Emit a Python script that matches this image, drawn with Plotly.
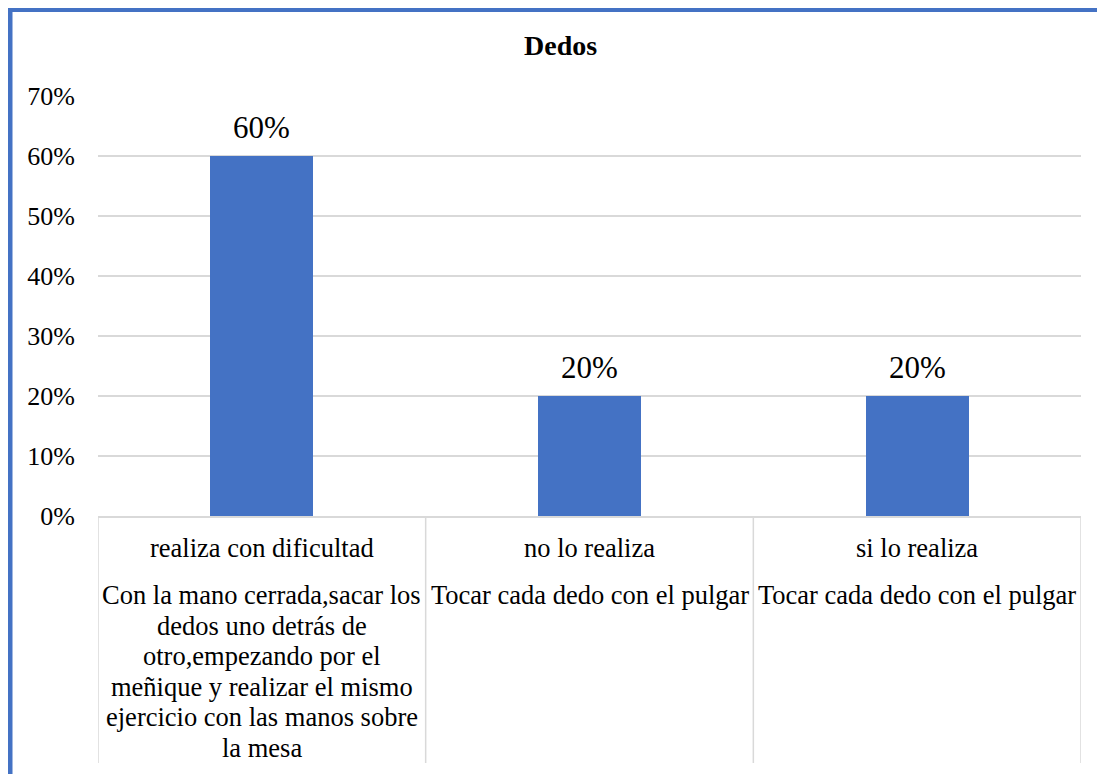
import plotly.graph_objects as go

# ---- data ----
categories = ["realiza con dificultad", "no lo realiza", "si lo realiza"]
descriptions = [
    ["Con la mano cerrada,sacar los", "dedos uno detrás de", "otro,empezando por el",
     "meñique y realizar el mismo", "ejercicio con las manos sobre", "la mesa"],
    ["Tocar cada dedo con el pulgar"],
    ["Tocar cada dedo con el pulgar"],
]
values = [0.60, 0.20, 0.20]
tick_vals = [0, 0.1, 0.2, 0.3, 0.4, 0.5, 0.6, 0.7]
tick_text = ["0%", "10%", "20%", "30%", "40%", "50%", "60%", "70%"]
title_text = "Dedos"

# ---- layout constants (page pixels) ----
OFF = 8  # page body margin
W, H = 1105 - OFF, 774 - OFF
L, R, T, B = 98, 1081, 96, 516
PH = B - T
PW = R - L
FONT = "Times New Roman, Liberation Serif, serif"
BLUE = "#4472C4"
GRID = "#D9D9D9"


def py(px):
    return (B - px) / PH


def pxx(px):
    return (px - L) / PW


x_idx = list(range(len(categories)))

fig = go.Figure()
fig.add_trace(go.Bar(
    x=x_idx, y=values, width=0.314,
    marker=dict(color=BLUE, line=dict(width=0)),
    hoverinfo="skip",
))

annotations = []
# data labels
for i, v in zip(x_idx, values):
    annotations.append(dict(text=f"{v:.0%}", xref="x", yref="y", x=i, y=v,
                            xanchor="center", yanchor="bottom", yshift=9,
                            showarrow=False,
                            font=dict(family=FONT, size=31, color="#000000")))
# title
annotations.append(dict(text="<b>" + title_text + "</b>", xref="paper", yref="paper",
                        x=pxx(560), y=py(46), xanchor="center", yanchor="middle",
                        showarrow=False, font=dict(family=FONT, size=28, color="#000000")))
# category labels
for i, (cat, desc) in enumerate(zip(categories, descriptions)):
    annotations.append(dict(text=cat, xref="x", yref="paper", x=i, y=py(547.5),
                            xanchor="center", yanchor="middle", showarrow=False,
                            font=dict(family=FONT, size=26.5, color="#000000")))
    for j, line in enumerate(desc):
        annotations.append(dict(text=line, xref="x", yref="paper", x=i,
                                y=py(595 + 30.5 * j),
                                xanchor="center", yanchor="middle", showarrow=False,
                                font=dict(family=FONT, size=26.5, color="#000000")))

shapes = []
# category separators
for k in range(len(categories) + 1):
    shapes.append(dict(type="line", xref="x", yref="paper", x0=k - 0.5, x1=k - 0.5,
                       y0=0, y1=py(763), line=dict(color=GRID, width=1.5)))
# chart border (blue)
shapes.append(dict(type="rect", xref="paper", yref="paper",
                   x0=pxx(10), x1=pxx(1120), y0=py(790), y1=py(9.5),
                   line=dict(color=BLUE, width=5), fillcolor="rgba(0,0,0,0)"))

fig.update_layout(
    width=W, height=H, autosize=False,
    font=dict(family=FONT, color="#000000"),
    margin=dict(l=L - OFF, r=1105 - R, t=T - OFF, b=774 - B, pad=0),
    paper_bgcolor="white", plot_bgcolor="white",
    showlegend=False,
    annotations=annotations, shapes=shapes,
    bargap=0,
    xaxis=dict(range=[-0.5, len(categories) - 0.5], showticklabels=False, showgrid=False,
               zeroline=False, showline=True, linecolor=GRID, linewidth=1.5,
               ticks="", fixedrange=True),
    yaxis=dict(range=[0, 0.7], tickvals=tick_vals, ticktext=tick_text,
               showgrid=True, gridcolor=GRID, gridwidth=1.5, zeroline=False,
               showline=False, ticks="outside", ticklen=17, tickcolor="rgba(0,0,0,0)",
               tickfont=dict(family=FONT, size=26, color="#000000"), fixedrange=True),
)

fig.write_html("out.html")
